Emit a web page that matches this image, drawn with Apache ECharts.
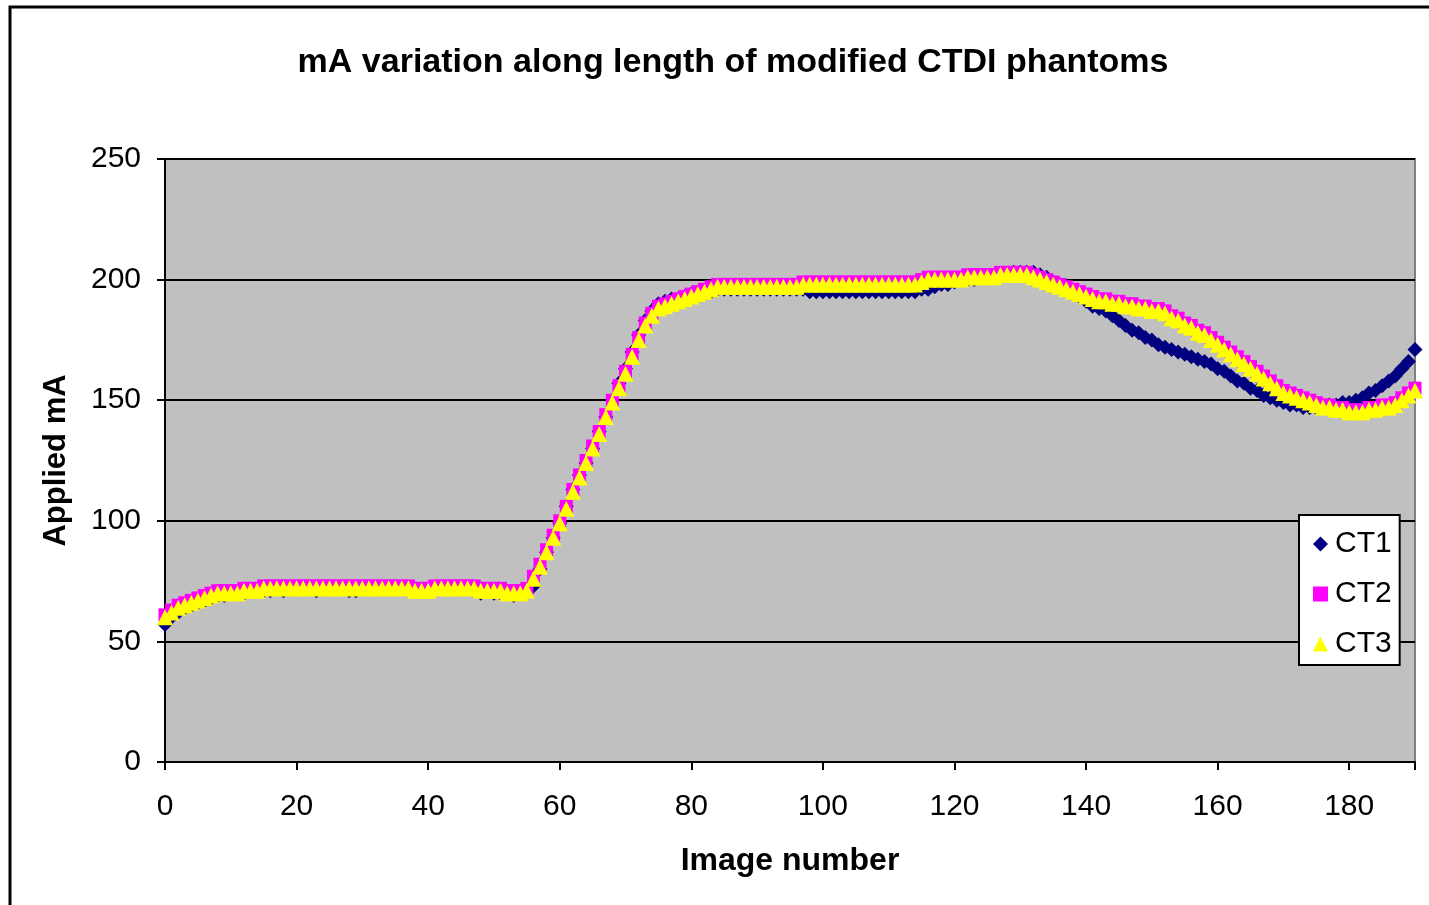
<!DOCTYPE html>
<html>
<head>
<meta charset="utf-8">
<title>mA variation along length of modified CTDI phantoms</title>
<script src="https://cdn.jsdelivr.net/npm/echarts@6/dist/echarts.min.js"></script>
<style>
  html, body { margin: 0; padding: 0; background: #fff; }
  #chart { width: 1429px; height: 905px; }
</style>
</head>
<body>
<div id="chart"></div>
<script>
// applied mA per image number (0..190)
const ct1 = [
  57, 60, 62, 64, 65, 66, 67, 68, 69, 69, 70, 70, 70, 71, 71, 71, 71, 72, 71, 72,
  72, 72, 72, 71, 72, 72, 72, 72, 71, 71, 72, 72, 72, 72, 72, 72, 72, 72, 71, 71,
  71, 72, 72, 72, 72, 72, 72, 72, 70, 71, 70, 70, 70, 69, 70, 71, 73, 80, 87, 93,
  99, 106, 113, 119, 124, 130, 137, 143, 150, 157, 163, 170, 177, 183, 187, 190, 191, 192, 192, 193,
  194, 194, 195, 195, 196, 196, 196, 196, 196, 196, 196, 196, 196, 196, 196, 196, 196, 196, 195, 195,
  195, 195, 195, 195, 195, 195, 195, 195, 195, 195, 195, 195, 195, 195, 195, 196, 196, 197, 198, 198,
  199, 200, 200, 200, 201, 201, 201, 202, 202, 203, 203, 203, 203, 202, 201, 199, 198, 197, 195, 193,
  191, 189, 188, 187, 185, 183, 181, 179, 178, 176, 175, 173, 172, 171, 170, 169, 168, 167, 166, 165,
  163, 162, 160, 158, 157, 155, 154, 152, 151, 150, 149, 148, 148, 147, 147, 147, 147, 148, 148, 149,
  149, 150, 151, 153, 154, 156, 158, 160, 163, 166, 171
];
const ct2 = [
  61, 63, 65, 66, 67, 68, 69, 70, 71, 71, 71, 71, 72, 72, 72, 73, 73, 73, 73, 73,
  73, 73, 73, 73, 73, 73, 73, 73, 73, 73, 73, 73, 73, 73, 73, 73, 73, 73, 72, 72,
  72, 73, 73, 73, 73, 73, 73, 73, 72, 72, 72, 72, 71, 71, 71, 72, 77, 82, 88, 94,
  100, 106, 113, 119, 125, 131, 137, 144, 150, 156, 162, 169, 176, 182, 186, 189, 190, 191, 192, 193,
  194, 195, 196, 197, 198, 198, 198, 198, 198, 198, 198, 198, 198, 198, 198, 198, 198, 199, 199, 199,
  199, 199, 199, 199, 199, 199, 199, 199, 199, 199, 199, 199, 199, 199, 199, 200, 201, 201, 201, 201,
  201, 201, 202, 202, 202, 202, 202, 203, 203, 203, 203, 203, 202, 201, 200, 199, 198, 197, 196, 195,
  194, 193, 192, 192, 191, 191, 190, 190, 189, 189, 188, 188, 187, 185, 184, 182, 181, 179, 178, 176,
  174, 172, 170, 168, 166, 164, 162, 160, 158, 156, 154, 153, 152, 151, 150, 149, 148, 148, 147, 147,
  146, 146, 146, 147, 147, 148, 148, 149, 151, 153, 155
];
const ct3 = [
  60, 62, 64, 65, 66, 67, 68, 69, 70, 70, 70, 70, 71, 71, 71, 72, 72, 72, 72, 72,
  72, 72, 72, 72, 72, 72, 72, 72, 72, 72, 72, 72, 72, 72, 72, 72, 72, 72, 71, 71,
  71, 72, 72, 72, 72, 72, 72, 72, 71, 71, 71, 71, 70, 70, 70, 71, 76, 81, 87, 93,
  99, 105, 112, 118, 124, 130, 136, 143, 149, 155, 161, 168, 175, 181, 185, 188, 189, 190, 191, 192,
  193, 194, 195, 196, 197, 197, 197, 197, 197, 197, 197, 197, 197, 197, 197, 197, 197, 198, 198, 198,
  198, 198, 198, 198, 198, 198, 198, 198, 198, 198, 198, 198, 198, 198, 198, 199, 200, 200, 200, 200,
  200, 200, 201, 201, 201, 201, 201, 202, 202, 202, 202, 202, 201, 200, 199, 198, 197, 196, 195, 194,
  193, 192, 191, 191, 190, 190, 189, 189, 188, 188, 187, 187, 186, 184, 183, 181, 180, 178, 177, 175,
  173, 171, 169, 167, 165, 163, 161, 159, 157, 155, 153, 152, 151, 150, 149, 148, 147, 147, 146, 146,
  145, 145, 145, 146, 146, 147, 147, 148, 150, 152, 154
];
const seriesNames = ["CT1", "CT2", "CT3"];
const xTicks = [0, 20, 40, 60, 80, 100, 120, 140, 160, 180];
const yTicks = [0, 50, 100, 150, 200, 250];

const font = "Liberation Sans, Arial, sans-serif";

// image number -> [x, y] pairs
const toPoints = (arr) => arr.map((v, i) => [i, v]);

const chart = echarts.init(document.getElementById("chart"));

const option = {
  backgroundColor: "#ffffff",
  animation: false,
  textStyle: { fontFamily: font, color: "#000" },
  title: {
    text: "mA variation along length of modified CTDI phantoms",
    left: 728,
    top: 41,
    textAlign: "center",
    textStyle: { fontFamily: font, fontSize: 34, fontWeight: "bold", color: "#000" }
  },
  graphic: [
    {
      type: "rect",
      shape: { x: 10, y: 7, width: 1460, height: 960 },
      style: { fill: "none", stroke: "#000", lineWidth: 3 },
      silent: true
    }
  ],
  grid: {
    left: 165,
    right: 14,
    top: 159,
    bottom: 143,
    show: true,
    backgroundColor: "#c0c0c0",
    borderColor: "#808080",
    borderWidth: 2
  },
  legend: {
    orient: "vertical",
    left: 1299,
    top: 515,
    padding: [14, 8, 6, 14],
    itemWidth: 15,
    itemHeight: 15,
    itemGap: 20,
    backgroundColor: "#ffffff",
    borderColor: "#000",
    borderWidth: 2,
    borderRadius: 0,
    textStyle: { fontFamily: font, fontSize: 30, color: "#000", lineHeight: 28, padding: [0, 0, 0, 2] },
    data: [
      { name: "CT1", icon: "diamond" },
      { name: "CT2", icon: "rect" },
      { name: "CT3", icon: "triangle" }
    ]
  },
  xAxis: {
    type: "value",
    min: 0,
    max: 190,
    interval: 20,
    name: "Image number",
    nameLocation: "middle",
    nameGap: 83,
    nameTextStyle: { fontFamily: font, fontSize: 32, fontWeight: "bold", color: "#000" },
    axisLine: { show: true, lineStyle: { color: "#000", width: 2 } },
    axisTick: { show: true, inside: false, length: 8, lineStyle: { color: "#000", width: 2 } },
    axisLabel: {
      fontFamily: font,
      fontSize: 30,
      color: "#000",
      margin: 30,
      formatter: (v) => (xTicks.includes(v) ? String(v) : "")
    },
    splitLine: { show: false }
  },
  yAxis: {
    type: "value",
    min: 0,
    max: 250,
    interval: 50,
    name: "Applied mA",
    nameLocation: "middle",
    nameGap: 93,
    nameRotate: 90,
    nameTextStyle: { fontFamily: font, fontSize: 31, fontWeight: "bold", color: "#000" },
    axisLine: { show: true, lineStyle: { color: "#000", width: 2 } },
    axisTick: { show: true, inside: false, length: 8, lineStyle: { color: "#000", width: 2 } },
    axisLabel: {
      fontFamily: font,
      fontSize: 30,
      color: "#000",
      margin: 24,
      formatter: (v) => (yTicks.includes(v) ? String(v) : "")
    },
    splitLine: { show: true, lineStyle: { color: "#000", width: 2 } }
  },
  series: [
    {
      name: seriesNames[0],
      type: "scatter",
      data: toPoints(ct1),
      symbol: "diamond",
      symbolSize: 15,
      clip: false,
      itemStyle: { color: "#000080", opacity: 1 },
      z: 2
    },
    {
      name: seriesNames[1],
      type: "scatter",
      data: toPoints(ct2),
      symbol: "rect",
      symbolSize: 13,
      clip: false,
      itemStyle: { color: "#ff00ff", opacity: 1 },
      z: 3
    },
    {
      name: seriesNames[2],
      type: "scatter",
      data: toPoints(ct3),
      symbol: "triangle",
      symbolSize: 16,
      clip: false,
      itemStyle: { color: "#ffff00", opacity: 1 },
      z: 4
    }
  ]
};

chart.setOption(option);
</script>
</body>
</html>
